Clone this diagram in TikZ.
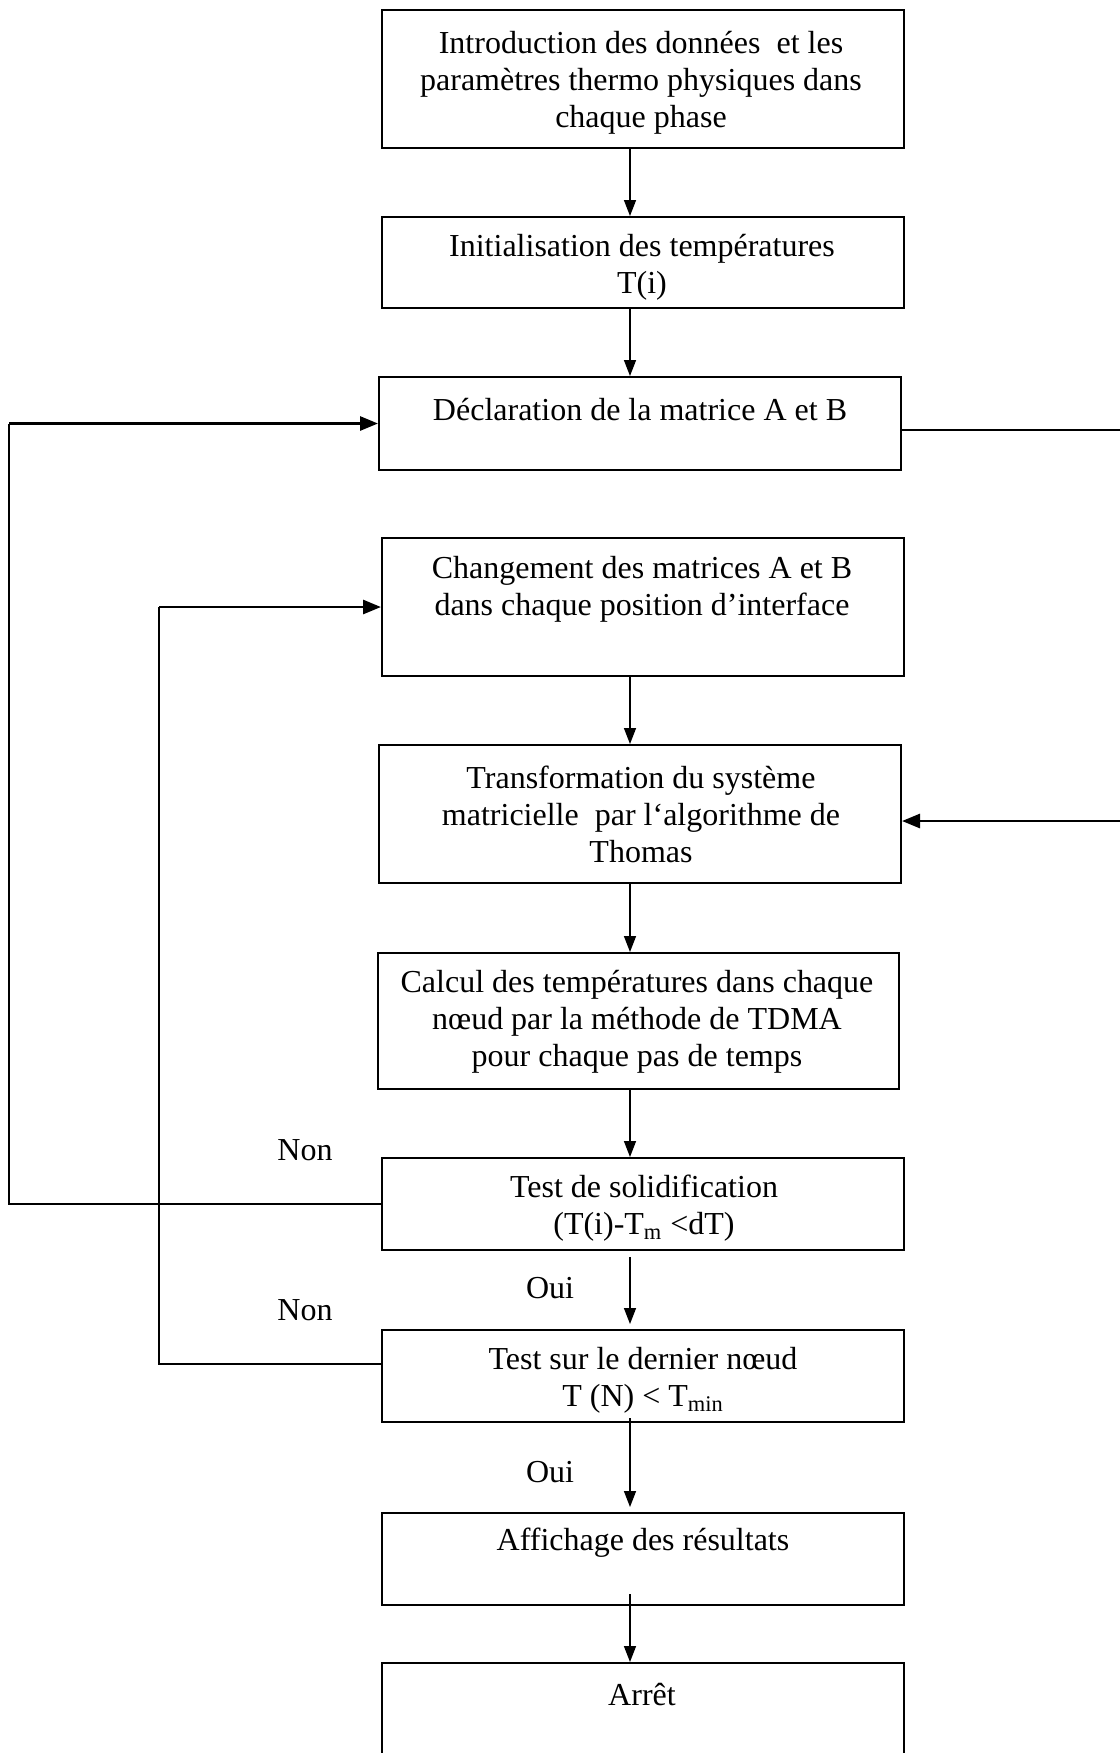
\documentclass[tikz,border=0pt]{standalone}
\usepackage{fontspec}
\setmainfont{Liberation Serif}
\usetikzlibrary{arrows.meta}
\begin{document}
\begin{tikzpicture}[x=0.5pt,y=-0.5pt,
  box/.style={draw=black,line width=1pt,rectangle,inner sep=0pt,minimum width=261pt},
  txt/.style={align=center,inner sep=0pt,font=\fontsize{16pt}{18.5pt}\selectfont},
  arr/.style={line width=0.75pt,-{Triangle[length=8pt,width=6pt]}},
  loop/.style={line width=1pt},
  looparr/.style={line width=1.4pt,-{Triangle[length=9pt,width=7pt]}}]
\useasboundingbox (0,0) rectangle (1120,1753);
\coordinate (axis) at (630,0);
% boxes
\node[box,minimum height=69pt] (b1) at (643,79) {};
\node[box,minimum height=45.5pt] (b2) at (643,262.5) {};
\node[box,minimum height=46.5pt] (b3) at (640,423.5) {};
\node[box,minimum height=69pt] (b4) at (643,607) {};
\node[box,minimum height=69pt] (b5) at (640,814) {};
\node[box,minimum height=68pt,minimum width=260.5pt] (b6) at (638.5,1021) {};
\node[box,minimum height=46pt] (b7) at (643,1204) {};
\node[box,minimum height=46pt] (b8) at (643,1376) {};
\node[box,minimum height=46pt] (b9) at (643,1559) {};
\node[box,minimum height=68.5pt] (b10) at (643,1731.5) {};
% texts
\node[txt] (t1) at (641,83) {Introduction des données\ \ et les\\paramètres thermo physiques dans\\chaque phase};
\node[txt] (t2) at (642,267) {Initialisation des températures\\T(i)};
\node[txt] (t3) at (640,410) {Déclaration de la matrice A et B};
\node[txt] (t4) at (642,589) {Changement des matrices A et B\\dans chaque position d’interface};
\node[txt] (t5) at (641,814) {Transformation du système\\matricielle\ \ par l‘algorithme de\\Thomas};
\node[txt] (t6) at (637,1022) {Calcul des températures dans chaque\\nœud par la méthode de TDMA\\pour chaque pas de temps};
\node[txt] (t7) at (644,1208) {Test de solidification\\ (T(i)-T\textsubscript{m} <dT)};
\node[txt] (t8) at (643,1380) {Test sur le dernier nœud\\ T (N) < T\textsubscript{min}};
\node[txt] (t9) at (643,1543) {Affichage des résultats};
\node[txt] (t10) at (642,1695) {Arrêt};
% labels
\node[txt] (n1) at (305,1150) {Non};
\node[txt] (n2) at (305,1310) {Non};
\node[txt] (o1) at (550,1288) {Oui};
\node[txt] (o2) at (550,1472) {Oui};
% vertical arrows
\draw[arr] (b1.south -| axis) -- (b2.north -| axis);
\draw[arr] (b2.south -| axis) -- (b3.north -| axis);
\draw[arr] (b4.south -| axis) -- (b5.north -| axis);
\draw[arr] (b5.south -| axis) -- (b6.north -| axis);
\draw[arr] (b6.south -| axis) -- (b7.north -| axis);
\draw[arr] ([yshift=-3pt]b7.south -| axis) -- ([yshift=2.5pt]b8.north -| axis);
\draw[arr] ([yshift=2.5pt]b8.south -| axis) -- ([yshift=2.5pt]b9.north -| axis);
\draw[arr] ([yshift=6pt]b9.south -| axis) -- (b10.north -| axis);
% feedback loops
\coordinate (lA) at (9,0);
\coordinate (lB) at (159,0);
\coordinate (rC) at (1135,0);
\draw[loop] (b7.west) -- (b7.west -| lA) -- (b3.west -| lA);
\draw[looparr] (b3.west -| lA) -- (b3.west);
\draw[loop] ([yshift=6pt]b8.west) -- ([yshift=6pt]b8.west -| lB) -- (b4.west -| lB);
\draw[looparr] (b4.west -| lB) -- (b4.west);
\draw[loop] ([yshift=-3.25pt]b3.east) -- ([yshift=-3.25pt]b3.east -| rC) -- ([yshift=-3.5pt]b5.east -| rC);
\draw[looparr] ([yshift=-3.5pt]b5.east -| rC) -- ([yshift=-3.5pt]b5.east);
\end{tikzpicture}
\end{document}
